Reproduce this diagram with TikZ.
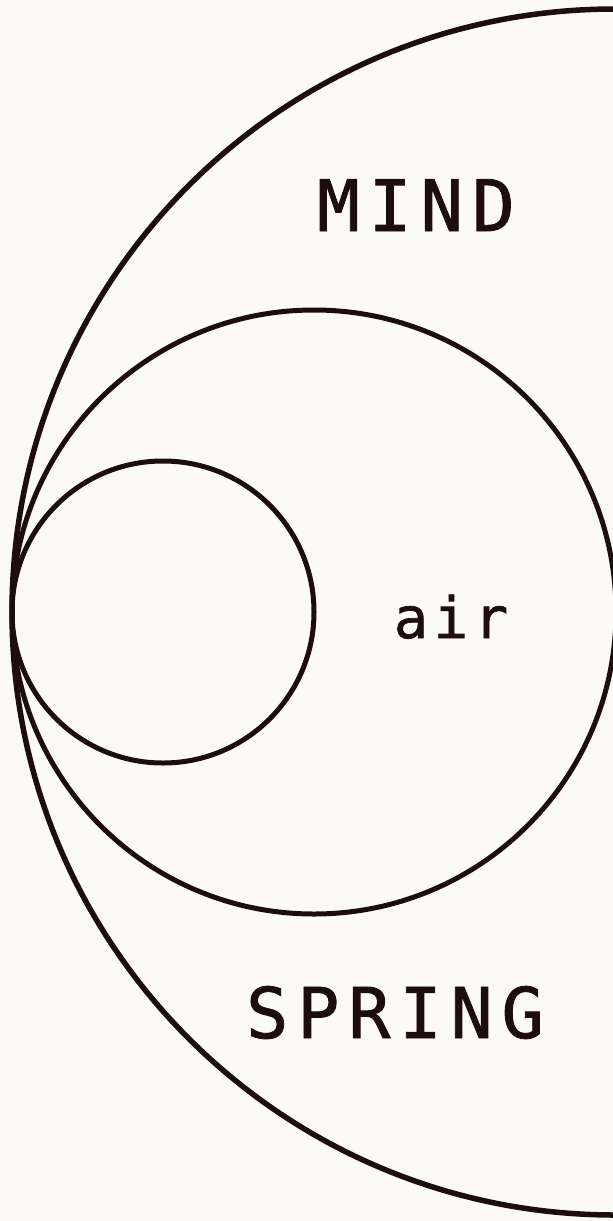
\documentclass[tikz,border=0pt]{standalone}
\usepackage{fontspec}
\setmonofont{DejaVu Sans Mono}[FakeBold=1.2]
\definecolor{bg}{HTML}{FBFAF6}
\definecolor{ink}{HTML}{1E0D0F}
\begin{document}
\begin{tikzpicture}[x=1pt,y=-1pt,
  ring/.style={draw=ink,line width=5pt},
  bigring/.style={draw=ink,line width=5.5pt},
  label/.style={text=ink,inner sep=0pt,anchor=base}]
\fill[bg] (0,0) rectangle (613,1221);
\useasboundingbox (0,0) rectangle (613,1221);
\coordinate (cb) at (615,612);
\coordinate (cm) at (314,612);
\coordinate (cs) at (163,612);
\draw[bigring] (cb) circle[radius=603];
\draw[ring] (cm) circle[radius=302];
\draw[ring] (cs) circle[radius=151];
\node[label] (mind) at (416,231) {\fontsize{71}{71}\ttfamily\addfontfeature{LetterSpace=12.6}MIND};
\node[label] (spring) at (395,1038) {\fontsize{70}{70}\ttfamily\addfontfeature{LetterSpace=12.8}SPRING};
\node[label] (air) at (451,638) {\fontsize{57}{57}\ttfamily\addfontfeature{LetterSpace=10}air};
\end{tikzpicture}
\end{document}
